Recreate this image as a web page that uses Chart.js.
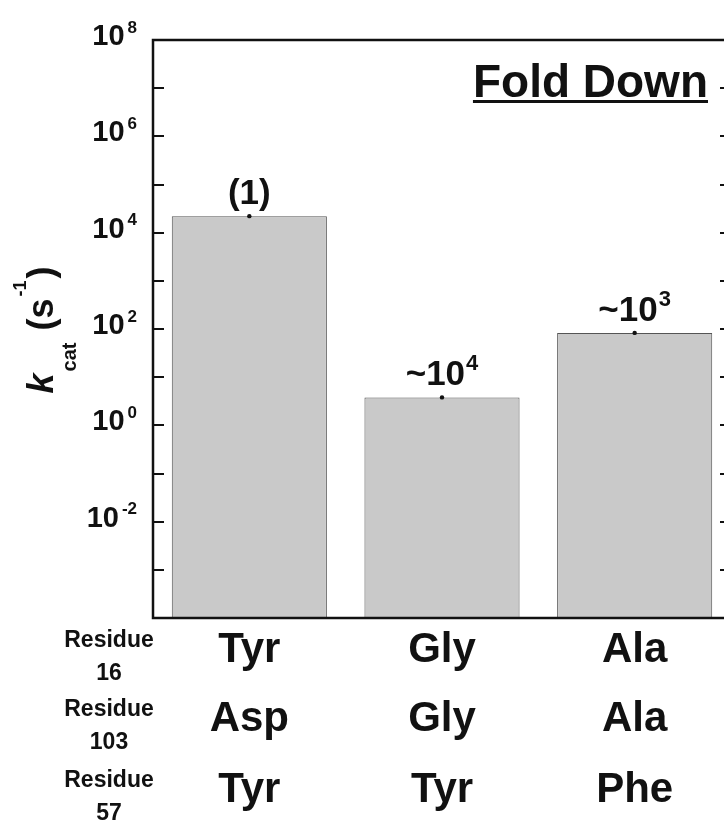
<!DOCTYPE html>
<html>
<head>
<meta charset="utf-8">
<script src="https://cdn.jsdelivr.net/npm/chart.js@4/dist/chart.umd.min.js"></script>
<style>
  html, body { margin: 0; padding: 0; background: #fff; overflow: hidden; }
  canvas { display: block; }
</style>
</head>
<body>
<canvas id="chart" width="734" height="822"></canvas>
<script>
// kcat (s^-1) for each variant
const variants = ['Y16/D103/Y57', 'G16/G103/Y57', 'A16/A103/F57'];
const kcatValues = [2.2e4, 3.8, 83];
const rateLabels = ['(1)', '~10^4', '~10^3'];

// residue table under the bars
const residue16 = ['Tyr', 'Gly', 'Ala'];
const residue103 = ['Asp', 'Gly', 'Ala'];
const residue57 = ['Tyr', 'Tyr', 'Phe'];
const residueNumbers = ['16', '103', '57'];

// log axis: 10^-4 .. 10^8, labels on even decades, ticks on every decade
const yLabelExps = [-2, 0, 2, 4, 6, 8];
const yTickExps = [-3, -2, -1, 0, 1, 2, 3, 4, 5, 6, 7];

const FONT = '"Liberation Sans", Arial, Helvetica, sans-serif';

// draws base + superscript, e.g. "10" + "4"
function drawPower(ctx, base, exp, x, y, size, expSize, align, gap = 1) {
  ctx.font = `bold ${size}px ${FONT}`;
  const bw = ctx.measureText(base).width;
  ctx.font = `bold ${expSize}px ${FONT}`;
  const ew = exp ? ctx.measureText(exp).width + gap : 0;
  const total = bw + ew;
  let left = x;
  if (align === 'right') left = x - total;
  if (align === 'center') left = x - total / 2;
  ctx.textAlign = 'left';
  ctx.textBaseline = 'alphabetic';
  ctx.font = `bold ${size}px ${FONT}`;
  ctx.fillText(base, left, y);
  if (exp) {
    ctx.font = `bold ${expSize}px ${FONT}`;
    ctx.fillText(exp, left + bw + gap, y - size * 0.43);
  }
}

const figurePlugin = {
  id: 'figure',
  afterDatasetsDraw(chart) {
    const { ctx, chartArea: a, scales } = chart;
    const y = scales.y, x = scales.x;
    ctx.save();
    ctx.fillStyle = '#111';
    ctx.strokeStyle = '#111';

    // frame
    ctx.lineWidth = 2.5;
    ctx.strokeRect(a.left, a.top, a.right - a.left, a.bottom - a.top);

    // inward ticks on both sides
    ctx.lineWidth = 2;
    yTickExps.forEach(e => {
      const py = Math.round(y.getPixelForValue(Math.pow(10, e)));
      ctx.beginPath();
      ctx.moveTo(a.left, py); ctx.lineTo(a.left + 11, py);
      ctx.moveTo(a.right, py); ctx.lineTo(a.right - 11, py);
      ctx.stroke();
    });

    // tick labels
    yLabelExps.forEach(e => {
      const py = y.getPixelForValue(Math.pow(10, e));
      drawPower(ctx, '10', String(e), a.left - 16, py + 5, 29, 17, 'right', 3);
    });

    // y title: k_cat (s^-1), rotated
    ctx.save();
    ctx.translate(53, 329);
    ctx.rotate(-Math.PI / 2);
    const parts = [
      { t: 'k', f: `italic bold 36px ${FONT}`, dy: 0 },
      { t: 'cat', f: `bold 20px ${FONT}`, dy: 23 },
      { t: ' (s', f: `bold 36px ${FONT}`, dy: 0 },
      { t: '-1', f: `bold 18px ${FONT}`, dy: -27 },
      { t: ')', f: `bold 36px ${FONT}`, dy: 0 }
    ];
    let tw = 0;
    parts.forEach(p => { ctx.font = p.f; p.w = ctx.measureText(p.t).width + 2; tw += p.w; });
    let cx = -tw / 2;
    ctx.textAlign = 'left';
    ctx.textBaseline = 'alphabetic';
    parts.forEach(p => { ctx.font = p.f; ctx.fillText(p.t, cx, p.dy); cx += p.w; });
    ctx.restore();

    // bar tops: tiny error marks and relative-rate labels
    const meta = chart.getDatasetMeta(0);
    meta.data.forEach((bar, i) => {
      ctx.beginPath();
      ctx.arc(bar.x, bar.y, 2.2, 0, Math.PI * 2);
      ctx.fill();
      const [base, exp] = rateLabels[i].split('^');
      drawPower(ctx, base, exp || '', bar.x, bar.y - 12, 35, 22, 'center');
    });

    // panel title
    ctx.font = `bold 46px ${FONT}`;
    ctx.textAlign = 'right';
    ctx.textBaseline = 'alphabetic';
    const titleW = ctx.measureText('Fold Down').width;
    ctx.fillText('Fold Down', 708, 97);
    ctx.fillRect(708 - titleW, 100, titleW, 3);

    // residue table
    const rows = [residue16, residue103, residue57];
    const rowBase = [662, 731, 802];
    rows.forEach((row, r) => {
      ctx.textAlign = 'center';
      ctx.font = `bold 42px ${FONT}`;
      row.forEach((aa, i) => ctx.fillText(aa, x.getPixelForValue(i), rowBase[r]));
      ctx.font = `bold 23px ${FONT}`;
      ctx.fillText('Residue', 109, rowBase[r] - 15);
      ctx.fillText(residueNumbers[r], 109, rowBase[r] + 18);
    });
    ctx.restore();
  }
};

new Chart(document.getElementById('chart'), {
  type: 'bar',
  data: {
    labels: variants,
    datasets: [{
      data: kcatValues,
      backgroundColor: '#c9c9c9',
      borderColor: '#555',
      borderWidth: 1,
      barPercentage: 1,
      categoryPercentage: 0.805
    }]
  },
  options: {
    responsive: false,
    animation: false,
    layout: { padding: { left: 153, top: 40, right: 3, bottom: 204 } },
    plugins: { legend: { display: false }, tooltip: { enabled: false } },
    scales: {
      x: { type: 'category', offset: true, display: false },
      y: { type: 'logarithmic', min: 1e-4, max: 1e8, display: false }
    }
  },
  plugins: [figurePlugin]
});
</script>
</body>
</html>
